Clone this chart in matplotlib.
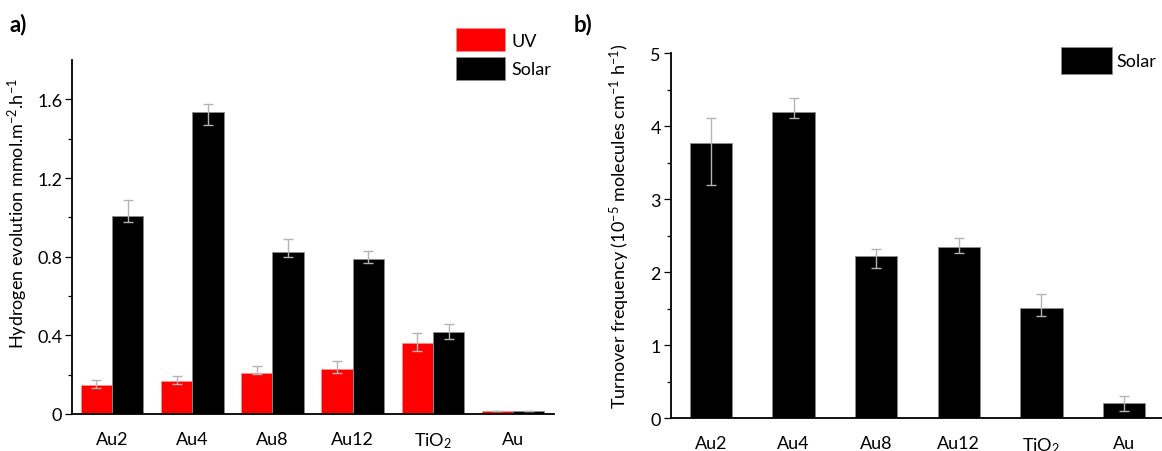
import matplotlib
matplotlib.use("Agg")
import matplotlib.pyplot as plt
import numpy as np

plt.rcParams['font.family'] = ['Lato', 'DejaVu Sans']
plt.rcParams['mathtext.fontset'] = 'custom'
plt.rcParams['mathtext.rm'] = 'Lato'
plt.rcParams['mathtext.it'] = 'Lato:italic'
plt.rcParams['mathtext.bf'] = 'Lato:bold'

# Samples
samples = ["Au2", "Au4", "Au8", "Au12", "TiO$_2$", "Au"]

# a) hydrogen evolution (mmol m^-2 h^-1)
uv_rate = [0.147, 0.168, 0.207, 0.229, 0.359, 0.017]
uv_err_low = [0.016, 0.017, 0.005, 0.020, 0.039, 0.0]
uv_err_high = [0.024, 0.023, 0.035, 0.041, 0.052, 0.0]

solar_rate = [1.006, 1.535, 0.826, 0.786, 0.418, 0.017]
solar_err_low = [0.029, 0.067, 0.027, 0.018, 0.037, 0.0]
solar_err_high = [0.081, 0.043, 0.064, 0.043, 0.041, 0.0]

# b) turnover frequency under solar light (10^-5 molecules cm^-1 h^-1)
tof_solar = [3.767, 4.200, 2.227, 2.351, 1.507, 0.205]
tof_err_low = [0.577, 0.086, 0.164, 0.091, 0.110, 0.109]
tof_err_high = [0.343, 0.188, 0.096, 0.119, 0.192, 0.096]

W, H = 1162, 452
fig = plt.figure(figsize=(W / 100, H / 100), dpi=100)

RED = "#ff0000"
BLACK = "#000000"
ERR = "#b4b4b4"
FS = 13


def style_axis(ax):
    for side in ("top", "right"):
        ax.spines[side].set_visible(False)
    for side in ("left", "bottom"):
        ax.spines[side].set_linewidth(1.3)
    ax.tick_params(axis="y", which="major", direction="out", length=5,
                   width=0.9, labelsize=FS, pad=2)
    ax.tick_params(axis="y", which="minor", direction="out", length=3,
                   width=0.9)
    ax.tick_params(axis="x", length=0, labelsize=FS, pad=12)


def fpos(x0, y0, x1, y1):
    return [x0 / W, 1 - y1 / H, (x1 - x0) / W, (y1 - y0) / H]


# ---- panel a ----
ax1 = fig.add_axes(fpos(72, 61, 554, 415))
x = np.arange(len(samples))
bw = 0.39
err_kw = dict(ecolor=ERR, elinewidth=1.0, capsize=3.5, capthick=1.0)
ax1.bar(x - bw / 2, uv_rate, bw, color=RED, edgecolor="#ff8a8a",
        linewidth=0.6, label="UV", zorder=2,
        yerr=[uv_err_low, uv_err_high], error_kw=err_kw)
ax1.bar(x + bw / 2, solar_rate, bw, color=BLACK, edgecolor="#8c8c8c",
        linewidth=0.6, label="Solar", zorder=2,
        yerr=[solar_err_low, solar_err_high], error_kw=err_kw)
ax1.set_xlim(-0.499, 5.51)
ax1.set_ylim(0, 1.8)
ax1.set_yticks([0, 0.4, 0.8, 1.2, 1.6])
ax1.set_yticklabels(["0", "0.4", "0.8", "1.2", "1.6"])
ax1.set_yticks(np.arange(0.2, 1.8, 0.4), minor=True)
ax1.set_xticks(x)
ax1.set_xticklabels(samples)
style_axis(ax1)
ax1.set_ylabel("Hydrogen evolution mmol.m$^{-2}$.h$^{-1}$", fontsize=FS)
ax1.yaxis.set_label_coords(-0.087, 0.57)
ax1.legend(loc="upper left", bbox_to_anchor=(456 / W, 1 - 29 / H),
           bbox_transform=fig.transFigure, frameon=False, fontsize=FS,
           handlelength=2.7, handleheight=1.6, handletextpad=0.35,
           labelspacing=0.3, borderpad=0, borderaxespad=0)
fig.text(9 / W, 1 - 25 / H, "a)", fontsize=16, fontweight="bold",
         va="center", ha="left")

# ---- panel b ----
ax2 = fig.add_axes(fpos(670.7, 54.3, 1162, 419.3))
bw2 = 0.515
ax2.bar(x, tof_solar, bw2, color=BLACK, edgecolor="#8c8c8c", linewidth=0.6,
        label="Solar", zorder=2, yerr=[tof_err_low, tof_err_high],
        error_kw=err_kw)
ax2.set_xlim(-0.488, 5.46)
ax2.set_ylim(0, 5)
ax2.set_yticks([0, 1, 2, 3, 4, 5])
ax2.set_yticks(np.arange(0.5, 5, 1.0), minor=True)
ax2.set_xticks(x)
ax2.set_xticklabels(samples)
style_axis(ax2)
ax2.set_ylabel("Turnover frequency (10$^{-5}$ molecules cm$^{-1}$ h$^{-1}$)",
               fontsize=FS)
ax2.yaxis.set_label_coords(-0.079, 0.53)
ax2.legend(loc="upper left", bbox_to_anchor=(1061 / W, 1 - 48 / H),
           bbox_transform=fig.transFigure, frameon=False, fontsize=FS,
           handlelength=2.85, handleheight=1.9, handletextpad=0.2,
           borderpad=0, borderaxespad=0)
fig.text(574 / W, 1 - 25 / H, "b)", fontsize=16, fontweight="bold",
         va="center", ha="left")

fig.savefig("out.png", dpi=100)
